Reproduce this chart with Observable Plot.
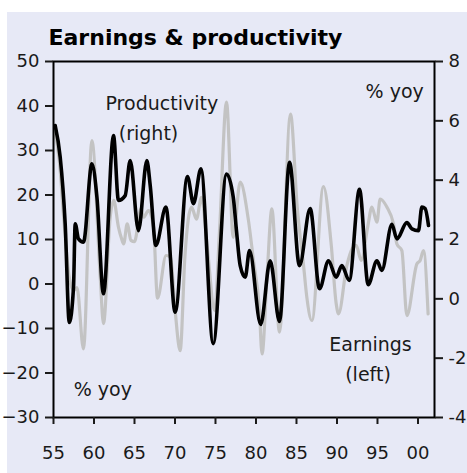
<!DOCTYPE html>
<html>
<head>
<meta charset="utf-8">
<script src="https://cdn.jsdelivr.net/npm/d3@7"></script>
<script src="https://cdn.jsdelivr.net/npm/@observablehq/plot@0.6"></script>
<style>
  html, body { margin: 0; padding: 0; background: #ffffff; }
  #panel { position: absolute; left: 7px; top: 12px; width: 460px; height: 461px; background: #e7e9f6; }
  #chart { position: absolute; left: 0; top: 0; }
</style>
</head>
<body>
<div id="panel"></div>
<div id="chart"></div>
<script>
// Productivity, % yoy (right axis) — black line
const prodYears = [1955.21, 1955.83, 1956.44, 1956.95, 1957.47, 1957.68, 1958.09, 1958.70, 1959.74, 1960.36,
  1961.17, 1962.41, 1963.02, 1963.85, 1964.47, 1965.49, 1966.53, 1966.94, 1967.64, 1968.88,
  1970.02, 1971.54, 1972.28, 1973.20, 1974.72, 1976.36, 1977.19, 1977.59, 1978.05, 1978.67,
  1979.20, 1980.58, 1981.75, 1982.90, 1984.14, 1985.37, 1986.69, 1987.84, 1988.95, 1989.90,
  1990.60, 1991.51, 1992.78, 1993.85, 1994.93, 1995.54, 1996.78, 1997.40, 1998.63, 1999.25,
  2000.06, 2000.48, 2000.89, 2001.30];
const prodValues = [5.84, 4.77, 2.54, -0.80, 0.39, 2.53, 2.02, 1.91, 4.55, 3.43,
  0.17, 5.50, 3.32, 3.48, 4.66, 2.30, 4.66, 3.82, 1.80, 3.09,
  -0.45, 4.12, 3.21, 4.38, -1.51, 4.21, 3.43, 2.30, 1.12, 0.73,
  1.63, -0.86, 1.28, -0.76, 4.60, 1.12, 3.04, 0.34, 1.28, 0.73,
  1.12, 0.62, 3.69, 0.48, 1.28, 0.96, 2.51, 2.02, 2.57, 2.36,
  2.30, 3.09, 3.04, 2.47];

// Earnings, % yoy (left axis) — grey line
const earnYears = [1955.21, 1955.70, 1956.30, 1956.90, 1957.50, 1957.90, 1958.70, 1959.74, 1960.77, 1961.17,
  1962.00, 1962.43, 1963.02, 1963.40, 1963.66, 1964.10, 1964.56, 1965.00, 1965.79, 1966.11,
  1966.73, 1967.35, 1967.84, 1968.90, 1969.45, 1970.02, 1970.64, 1971.22, 1972.04, 1972.65,
  1973.27, 1974.00, 1974.90, 1975.50, 1976.36, 1977.19, 1978.05, 1979.07, 1979.69, 1980.40,
  1980.75, 1981.40, 1981.96, 1982.90, 1984.26, 1985.09, 1985.91, 1986.28, 1986.90, 1988.33,
  1989.28, 1989.90, 1990.19, 1991.20, 1991.90, 1992.37, 1992.99, 1993.81, 1994.31, 1994.93,
  1995.33, 1996.16, 1996.98, 1997.40, 1998.01, 1998.63, 1999.86, 2000.27, 2000.68, 2001.25];
const earnValues = [34, 28, 14, 2, -1.5, -0.8, -14.6, 32.2, 1.5, -8.9,
  15, 18.8, 12.8, 10.2, 9.0, 13.5, 9.8, 9.5, 16.9, 15.0,
  16.5, 12.8, -3.2, 6.4, 6.0, -6.0, -15.0, 6.0, 17.3, 14.6,
  19.5, 8, -6, 12, 40.9, 10.5, 22.9, 14.3, 5.3, -5.2,
  -15.7, 3, 16.9, -10.8, 38.2, 17.3, 3.5, -3.0, -8.2, 21.9,
  9.0, -4.4, -6.7, 4, 8, 8.7, 5.3, 13, 17.3, 13.9,
  19.1, 17.3, 13.5, 9.0, 7.5, -7.1, 4.5, 5.3, 7.5, -6.7];

// Axes
const leftDomain = [-30, 50];
const rightDomain = [-4, 8];
const leftTicks = [-30, -20, -10, 0, 10, 20, 30, 40, 50];
const rightTicks = [-4, -2, 0, 2, 4, 6, 8];
const xTicks = [1955, 1960, 1965, 1970, 1975, 1980, 1985, 1990, 1995, 2000];

const k = (leftDomain[1] - leftDomain[0]) / (rightDomain[1] - rightDomain[0]);
const toLeft = r => (r - rightDomain[0]) * k + leftDomain[0];
const toRight = l => (l - leftDomain[0]) / k + rightDomain[0];
const fmt = v => (v < 0 ? "\u2212" : "") + Math.abs(v);

const earn = earnYears.map((x, i) => ({x, v: earnValues[i]}));
const prod = prodYears.map((x, i) => ({x, v: prodValues[i]}));

const chart = Plot.plot({
  width: 467,
  height: 473,
  marginLeft: 53,
  marginRight: 33,
  marginTop: 61,
  marginBottom: 56,
  x: {domain: [1955, 2002.04]},
  y: {domain: leftDomain},
  style: {fontFamily: "DejaVu Sans", fontSize: "18px", background: "transparent", color: "#1a1a1a"},
  marks: [
    Plot.line(earn, {x: "x", y: "v", stroke: "#c3c3c3", strokeWidth: 3.2, curve: "monotone-x"}),
    Plot.line(prod, {x: "x", y: d => toLeft(d.v), stroke: "#000000", strokeWidth: 3.6, strokeLinejoin: "round", curve: "monotone-x"}),
    Plot.frame({stroke: "#000000", strokeWidth: 2}),
    Plot.axisY({anchor: "left", ticks: leftTicks, tickFormat: fmt, tickSize: 8, tickPadding: 6, strokeWidth: 2, label: null}),
    Plot.axisY({anchor: "right", ticks: rightTicks.map(toLeft), tickFormat: d => String(Math.round(toRight(d))), tickSize: 8, tickPadding: 6, strokeWidth: 2, label: null}),
    Plot.axisX({ticks: xTicks, tickFormat: d => String(d % 100).padStart(2, "0"), tickSize: 7, tickPadding: 22, strokeWidth: 2, label: null}),
    Plot.text(["Earnings & productivity"], {text: d => d, frameAnchor: "top-left", dx: -5, dy: -17, textAnchor: "start", lineAnchor: "bottom", fontWeight: "bold", fontSize: 22, fill: "#000"}),
    Plot.text(["Productivity"], {text: d => d, x: 1961.42, y: 39.2, textAnchor: "start", lineAnchor: "bottom", fontSize: 19}),
    Plot.text(["(right)"], {text: d => d, x: 1966.73, y: 32.3, textAnchor: "middle", lineAnchor: "bottom", fontSize: 19}),
    Plot.text(["% yoy"], {text: d => d, x: 2000.72, y: 41.8, textAnchor: "end", lineAnchor: "bottom", fontSize: 19}),
    Plot.text(["% yoy"], {text: d => d, x: 1957.5, y: -25.06, textAnchor: "start", lineAnchor: "bottom", fontSize: 19}),
    Plot.text(["Earnings"], {text: d => d, x: 1994.14, y: -15.0, textAnchor: "middle", lineAnchor: "bottom", fontSize: 19}),
    Plot.text(["(left)"], {text: d => d, x: 1993.83, y: -21.7, textAnchor: "middle", lineAnchor: "bottom", fontSize: 19})
  ]
});
document.getElementById("chart").appendChild(chart);
</script>
</body>
</html>
